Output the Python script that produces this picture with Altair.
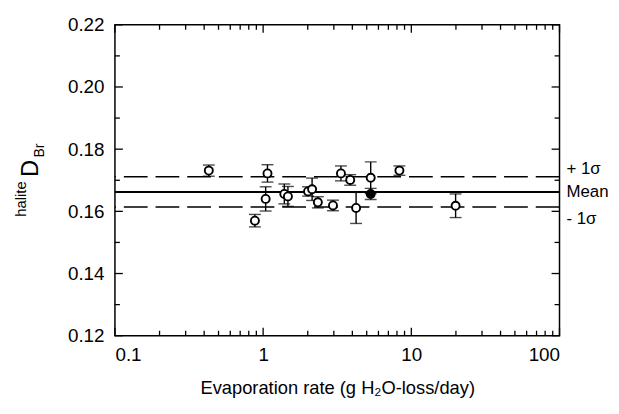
import altair as alt
import pandas as pd

# Open-circle measurements
rate_open = [0.43, 0.88, 1.04, 1.07, 1.39, 1.47, 2.01, 2.14, 2.34, 2.96, 3.35, 3.87, 4.24, 5.32, 8.31, 19.9]
d_open = [0.1731, 0.1570, 0.1640, 0.1722, 0.1656, 0.1648, 0.1664, 0.1671, 0.1629, 0.1619,
          0.1722, 0.1701, 0.1611, 0.1708, 0.1731, 0.1618]
err_open = [0.0018, 0.0020, 0.0039, 0.0028, 0.0032, 0.0032, 0.0015, 0.0036, 0.0018, 0.0017,
            0.0024, 0.0017, 0.0050, 0.0051, 0.0015, 0.0038]

# Filled-circle measurement
rate_fill = [5.32]
d_fill = [0.1656]
err_fill = [0.0018]

# Mean and +/- 1 sigma
line_names = ["+ 1σ", "Mean", "- 1σ"]
line_vals = [0.1711, 0.1662, 0.1614]
line_dash = ["d", "s", "d"]
label_dy = [-8, 0, 12]

y_major = [0.12, 0.14, 0.16, 0.18, 0.20, 0.22]
y_minor = [0.13, 0.15, 0.17, 0.19, 0.21]
x_major = [0.1, 1, 10, 100]
x_minor = [m * d for d in [0.1, 1, 10] for m in range(2, 10)]

W, H = 449, 314
FONT = "Liberation Sans"

pts = pd.DataFrame({
    "x": rate_open + rate_fill,
    "y": d_open + d_fill,
    "e": err_open + err_fill,
    "kind": ["open"] * len(rate_open) + ["filled"] * len(rate_fill),
})
pts["lo"] = pts["y"] - pts["e"]
pts["hi"] = pts["y"] + pts["e"]

xs = alt.Scale(type="log", domain=[0.1, 100], nice=False)
ys = alt.Scale(domain=[0.12, 0.22], nice=False, zero=False)

base = alt.Chart(pts)

X = alt.X("x:Q", scale=xs, axis=alt.Axis(values=x_major, format="~g",
          title="Evaporation rate (g H₂O-loss/day)", titlePadding=14, labelPadding=10))
Y = alt.Y("y:Q", scale=ys, axis=alt.Axis(values=y_major, format=".2f", title=None, labelPadding=11))

bars = base.mark_rule(color="black", strokeWidth=1.4).encode(
    x=alt.X("x:Q", scale=xs), y=alt.Y("lo:Q", scale=ys), y2="hi:Q")
cap_lo = base.mark_tick(orient="horizontal", size=12, thickness=1.4, color="black").encode(
    x=alt.X("x:Q", scale=xs), y=alt.Y("lo:Q", scale=ys))
cap_hi = base.mark_tick(orient="horizontal", size=12, thickness=1.4, color="black").encode(
    x=alt.X("x:Q", scale=xs), y=alt.Y("hi:Q", scale=ys))

circles = base.mark_point(shape="circle", filled=True, size=66, stroke="black", strokeWidth=1.9,
                          opacity=1).encode(
    x=X, y=Y,
    fill=alt.Fill("kind:N", scale=alt.Scale(domain=["open", "filled"], range=["white", "black"]),
                  legend=None))

ldf = pd.DataFrame({"name": line_names, "v": line_vals, "dash": line_dash})
mean_line = alt.Chart(ldf[ldf["dash"] == "s"]).mark_rule(color="black", strokeWidth=2).encode(
    y=alt.Y("v:Q", scale=ys))
sig_lines = alt.Chart(ldf[ldf["dash"] == "d"]).mark_rule(color="black", strokeWidth=1.5,
                                                         strokeDash=[24, 8]).encode(
    y=alt.Y("v:Q", scale=ys))

line_labels = [
    alt.Chart(ldf.iloc[[i]]).mark_text(align="left", baseline="middle", font=FONT, fontSize=17,
                                        color="black", dy=label_dy[i]).encode(
        x=alt.value(W + 7), y=alt.Y("v:Q", scale=ys), text="name:N")
    for i in range(len(line_names))
]

# inward ticks
ymaj = pd.DataFrame({"v": y_major})
ymin = pd.DataFrame({"v": y_minor})
xmaj = pd.DataFrame({"v": x_major})
xmin = pd.DataFrame({"v": x_minor})
tk = dict(color="black", strokeWidth=1.3)
ticks = [
    alt.Chart(ymaj).mark_rule(**tk).encode(y=alt.Y("v:Q", scale=ys), x=alt.value(0), x2=alt.value(8)),
    alt.Chart(ymin).mark_rule(**tk).encode(y=alt.Y("v:Q", scale=ys), x=alt.value(0), x2=alt.value(5)),
    alt.Chart(ymaj).mark_rule(**tk).encode(y=alt.Y("v:Q", scale=ys), x=alt.value(W), x2=alt.value(W - 8)),
    alt.Chart(ymin).mark_rule(**tk).encode(y=alt.Y("v:Q", scale=ys), x=alt.value(W), x2=alt.value(W - 5)),
    alt.Chart(xmaj).mark_rule(**tk).encode(x=alt.X("v:Q", scale=xs), y=alt.value(H), y2=alt.value(H - 8)),
    alt.Chart(xmin).mark_rule(**tk).encode(x=alt.X("v:Q", scale=xs), y=alt.value(H), y2=alt.value(H - 5)),
    alt.Chart(xmaj).mark_rule(**tk).encode(x=alt.X("v:Q", scale=xs), y=alt.value(0), y2=alt.value(8)),
    alt.Chart(xmin).mark_rule(**tk).encode(x=alt.X("v:Q", scale=xs), y=alt.value(0), y2=alt.value(5)),
]

# y-axis title: halite D_Br
tdf = pd.DataFrame({"t": ["halite", "D", "Br"], "px": [-95, -85, -76], "py": [176, 145, 127],
                    "fs": [15, 24, 14]})
ytitle = alt.Chart(tdf).mark_text(angle=270, align="center", baseline="middle", font=FONT,
                                  color="black").encode(
    x=alt.X("px:Q", scale=None), y=alt.Y("py:Q", scale=None), text="t:N",
    size=alt.Size("fs:Q", scale=None, legend=None))

chart = alt.layer(
    sig_lines, mean_line, bars, cap_lo, cap_hi, circles, *ticks, *line_labels, ytitle
).properties(
    width=W, height=H,
    autosize=alt.AutoSizeParams(type="none"),
    padding={"left": 108, "top": 15, "right": 52, "bottom": 66},
    background="white",
).configure_view(stroke="black", strokeWidth=1.5).configure_axis(
    domain=False, grid=False, ticks=False, labelFont=FONT, labelFontSize=19, labelColor="black",
    titleFont=FONT, titleFontSize=18.5, titleFontWeight="normal", titleColor="black")

chart.save("out.html", embed_options={"renderer": "svg", "actions": False})
